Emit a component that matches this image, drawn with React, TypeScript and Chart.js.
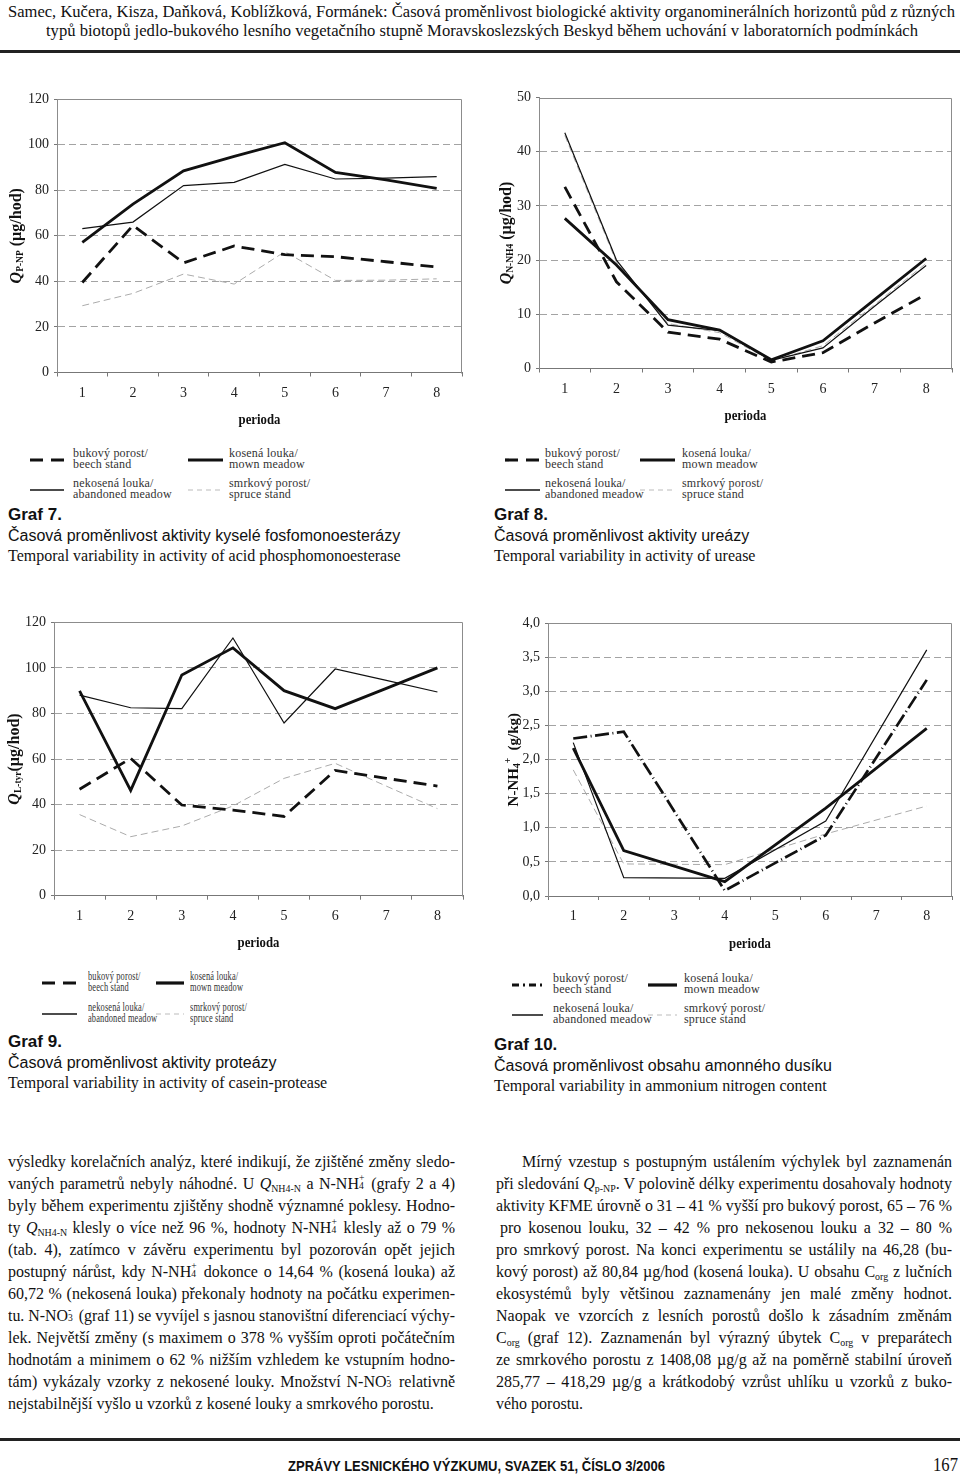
import React, { useEffect, useLayoutEffect, useRef } from 'react';
import { Chart, registerables } from 'chart.js';

Chart.register(...registerables);

// ---------- data ----------
const periods = ['1', '2', '3', '4', '5', '6', '7', '8'];

// Graf 7 – Q p-NP (µg/hod)
const g7Beech = [39.5, 64.5, 48.1, 55.5, 51.7, 50.8, 48.6, 46.3];
const g7Mown = [57.1, 73.9, 88.5, 94.8, 100.8, 87.8, 84.5, 80.8];
const g7Abandoned = [63.1, 66.0, 82.0, 83.4, 91.3, 84.9, 85.3, 85.9];
const g7Spruce = [29.3, 34.7, 43.2, 38.8, 53.0, 40.4, 40.5, 41.1];

// Graf 8 – Q N-NH4 (µg/hod)
const g8Beech = [33.5, 16.0, 6.7, 5.4, 1.2, 2.9, 8.4, 13.7];
const g8Mown = [27.7, 19.1, 9.0, 7.1, 1.6, 5.1, 12.7, 20.3];
const g8Abandoned = [43.5, 20.0, 8.0, 7.0, 1.5, 3.8, 11.5, 19.0];
const g8Spruce = [43.0, 19.6, 8.3, 6.6, 1.4, 4.2, 11.8, 19.4];

// Graf 9 – Q L-tyr (µg/hod)
const g9Beech = [46.7, 60.3, 39.8, 37.6, 34.8, 55.0, 51.5, 48.1];
const g9Mown = [89.9, 46.2, 96.9, 108.8, 90.0, 82.1, 91.0, 100.0];
const g9Abandoned = [88.0, 82.5, 82.1, 113.1, 75.8, 99.5, 94.5, 89.4];
const g9Spruce = [35.6, 25.9, 30.6, 39.4, 51.5, 58.1, 48.1, 38.2];

// Graf 10 – N-NH4+ (g/kg), measured in periods 1, 2, 4, 6, 8
const g10Beech = [2.31, 2.41, null, 0.08, null, 0.89, null, 3.17];
const g10Mown = [2.17, 0.665, null, 0.21, null, 1.29, null, 2.46];
const g10Abandoned = [2.25, 0.27, null, 0.26, null, 1.1, null, 3.61];
const g10Spruce = [1.85, 0.47, null, 0.46, null, 0.91, null, 1.32];

const seriesNames = {
  beech: 'bukový porost/beech stand',
  mown: 'kosená louka/mown meadow',
  abandoned: 'nekosená louka/abandoned meadow',
  spruce: 'smrkový porost/spruce stand',
};

// ---------- styles ----------
const SERIF = '"Liberation Serif", "Times New Roman", serif';
const SANS = '"Liberation Sans", Arial, sans-serif';

type StyleKey = 'beech' | 'beechDot' | 'mown' | 'abandoned' | 'spruce';
const STYLES: Record<StyleKey, { color: string; width: number; dash: number[] }> = {
  beech: { color: '#111', width: 2.8, dash: [13, 7] },
  beechDot: { color: '#111', width: 2.7, dash: [14, 3.5, 1, 3.5] },
  mown: { color: '#111', width: 2.8, dash: [] },
  abandoned: { color: '#111', width: 1.2, dash: [] },
  spruce: { color: '#ababab', width: 1, dash: [7, 4] },
};
const LEG: Record<StyleKey, { color: string; w: number; dash: string }> = {
  beech: { color: '#111', w: 3.2, dash: '13 8' },
  beechDot: { color: '#111', w: 3, dash: '7 4 2 4' },
  mown: { color: '#111', w: 3.2, dash: '' },
  abandoned: { color: '#111', w: 1.5, dash: '' },
  spruce: { color: '#bbb', w: 1, dash: '5 4' },
};

type Seg = { t: string; size: number; italic?: boolean; dy?: number };

const decoPlugin: any = {
  id: 'deco',
  beforeDatasetsDraw(chart: any) {
    const { ctx, chartArea: a } = chart;
    ctx.save();
    ctx.strokeStyle = '#8c8c8c';
    ctx.lineWidth = 1;
    ctx.setLineDash([]);
    const l = Math.round(a.left) + 0.5;
    const t = Math.round(a.top) + 0.5;
    const r = Math.round(a.right) - 0.5;
    const b = Math.round(a.bottom) + 0.5;
    ctx.beginPath();
    ctx.moveTo(l, t);
    ctx.lineTo(r, t);
    ctx.lineTo(r, b);
    ctx.stroke();
    ctx.restore();
  },
  afterDraw(chart: any, _args: any, opts: any) {
    const { ctx, chartArea: a } = chart;
    // x title
    ctx.save();
    ctx.fillStyle = '#111';
    ctx.font = `bold 15px ${SERIF}`;
    ctx.textAlign = 'center';
    ctx.textBaseline = 'middle';
    ctx.translate((a.left + a.right) / 2, a.bottom + opts.xOff);
    ctx.scale(0.85, 1);
    ctx.fillText(opts.xText, 0, 0);
    ctx.restore();
    // y title
    ctx.save();
    ctx.fillStyle = '#111';
    const segs: Seg[] = opts.ySegs;
    const fontOf = (s: Seg) => `${s.italic ? 'italic ' : ''}bold ${s.size}px ${SERIF}`;
    let total = 0;
    for (const s of segs) {
      ctx.font = fontOf(s);
      total += ctx.measureText(s.t).width;
    }
    ctx.translate(a.left - opts.yOff, (a.top + a.bottom) / 2);
    ctx.rotate(-Math.PI / 2);
    ctx.textAlign = 'left';
    ctx.textBaseline = 'alphabetic';
    let x = -total / 2;
    for (const s of segs) {
      ctx.font = fontOf(s);
      ctx.fillText(s.t, x, 5.5 + (s.dy || 0));
      x += ctx.measureText(s.t).width;
    }
    ctx.restore();
  },
};

type Ds = { label: string; data: (number | null)[]; style: StyleKey };

function LineChart(props: {
  left: number; top: number; width?: number; height?: number;
  area: { l: number; t: number; r: number; b: number };
  yMin: number; yMax: number; step: number; decimals?: number;
  ySegs: Seg[]; yOff: number; xOff: number; series: Ds[]; spanGaps?: boolean;
}) {
  const ref = useRef<HTMLCanvasElement>(null);
  const width = props.width || 480;
  const height = props.height || 360;
  useEffect(() => {
    const { area, yMin, yMax, step, decimals = 0 } = props;
    const chart = new Chart(ref.current as HTMLCanvasElement, {
      type: 'line',
      data: {
        labels: periods,
        datasets: props.series.map((s) => ({
          label: s.label,
          data: s.data,
          borderColor: STYLES[s.style].color,
          borderWidth: STYLES[s.style].width,
          borderDash: STYLES[s.style].dash,
          borderCapStyle: 'butt',
          borderJoinStyle: 'miter',
          pointRadius: 0,
          tension: 0,
          fill: false,
          spanGaps: !!props.spanGaps,
        })),
      } as any,
      options: {
        animation: false,
        responsive: false,
        maintainAspectRatio: false,
        devicePixelRatio: 1,
        events: [],
        layout: { padding: { top: area.t, right: width - area.r, left: 0, bottom: 0 } },
        plugins: {
          legend: { display: false },
          tooltip: { enabled: false },
          deco: { ySegs: props.ySegs, yOff: props.yOff, xOff: props.xOff, xText: 'perioda' },
        } as any,
        scales: {
          x: {
            type: 'category',
            offset: true,
            grid: { offset: true, drawOnChartArea: false, drawTicks: true, tickLength: 4, color: '#777', lineWidth: 1 },
            border: { color: '#777', width: 1 },
            ticks: { font: { family: SERIF, size: 14 }, color: '#222', padding: 8, maxRotation: 0, autoSkip: false },
            afterFit: (s: any) => { s.height = height - area.b; },
          },
          y: {
            min: yMin,
            max: yMax,
            grid: {
              color: (c: any) => (c.tick && (Math.abs(c.tick.value - yMin) < 1e-9 || Math.abs(c.tick.value - yMax) < 1e-9) ? 'rgba(0,0,0,0)' : '#a3a3a3'),
              tickColor: '#777',
              tickLength: 3,
              drawTicks: true,
              lineWidth: 1,
            },
            border: { color: '#8c8c8c', width: 1, dash: [7, 4] },
            ticks: {
              stepSize: step,
              font: { family: SERIF, size: 14 },
              color: '#222',
              padding: 5,
              callback: (v: any) => (decimals ? Number(v).toFixed(decimals).replace('.', ',') : String(v)),
            },
            afterFit: (s: any) => { s.width = area.l; },
          },
        } as any,
      },
      plugins: [decoPlugin],
    } as any);
    return () => chart.destroy();
  }, []);
  return (
    <canvas
      ref={ref}
      width={width}
      height={height}
      style={{ position: 'absolute', left: props.left, top: props.top, width, height }}
    />
  );
}

// ---------- text helpers ----------
function FitLine(p: {
  x: number; y: number; w: number; size: number; mode?: 'justify' | 'fit' | 'shrink' | 'none';
  align?: 'left' | 'center'; family?: string; weight?: any; color?: string; children: any;
}) {
  const ref = useRef<HTMLSpanElement>(null);
  const h = Math.round(p.size * 1.3);
  useLayoutEffect(() => {
    const el = ref.current;
    if (!el) return;
    const run = () => {
      el.style.wordSpacing = '0px';
      el.style.transform = 'none';
      const nat = el.getBoundingClientRect().width;
      const mode = p.mode || 'none';
      if (!nat) return;
      if (mode === 'justify') {
        const n = ((el.textContent || '').match(/ /g) || []).length;
        if (nat < p.w && n > 0) el.style.wordSpacing = (p.w - nat) / n + 'px';
        else if (nat > p.w) el.style.transform = `scaleX(${p.w / nat})`;
      } else if (mode === 'fit') {
        el.style.transform = `scaleX(${p.w / nat})`;
      } else if (mode === 'shrink' && nat > p.w) {
        el.style.transform = `scaleX(${p.w / nat})`;
      }
    };
    run();
    const f: any = (document as any).fonts;
    if (f && f.ready) f.ready.then(run);
  });
  const align = p.align || 'left';
  return (
    <div
      style={{
        position: 'absolute', left: p.x, top: p.y - h / 2, width: p.w, height: h, lineHeight: h + 'px',
        whiteSpace: 'pre', textAlign: align, fontFamily: p.family || SERIF, fontSize: p.size,
        fontWeight: p.weight || 'normal', color: p.color || '#111',
      }}
    >
      <span ref={ref} style={{ display: 'inline-block', transformOrigin: align === 'center' ? 'center center' : 'left center' }}>
        {p.children}
      </span>
    </div>
  );
}

const Sub = ({ children }: any) => (
  <span style={{ fontSize: '0.62em', position: 'relative', top: '0.32em', lineHeight: 0 }}>{children}</span>
);
const SubSup = ({ sub, sup }: { sub: string; sup: string }) => (
  <span style={{ position: 'relative', display: 'inline-block', width: '0.42em', height: '0.7em' }}>
    <span style={{ position: 'absolute', left: 0, top: '0.38em', fontSize: '0.6em', lineHeight: 1 }}>{sub}</span>
    <span style={{ position: 'absolute', left: 0, top: '-0.42em', fontSize: '0.6em', lineHeight: 1 }}>{sup}</span>
  </span>
);

function Sample({ x1, x2, y, style }: { x1: number; x2: number; y: number; style: StyleKey }) {
  const s = LEG[style];
  return (
    <svg style={{ position: 'absolute', left: x1, top: y - 4, overflow: 'visible' }} width={x2 - x1} height={8}>
      <line x1={0} y1={4} x2={x2 - x1} y2={4} stroke={s.color} strokeWidth={s.w} strokeDasharray={s.dash || undefined} />
    </svg>
  );
}

function LegText({ x, y, l1, l2, sx = 1 }: { x: number; y: number; l1: string; l2: string; sx?: number }) {
  return (
    <div
      style={{
        position: 'absolute', left: x, top: y - 11, lineHeight: '11px', fontSize: 12, fontFamily: SERIF,
        color: '#333', whiteSpace: 'pre', letterSpacing: '0.2px', transform: `scaleX(${sx})`, transformOrigin: 'left center',
      }}
    >
      {l1}
      <br />
      {l2}
    </div>
  );
}

function Legend(p: { rows: [number, number]; c1: [number, number, number]; c2: [number, number, number]; beech: StyleKey; sx?: number }) {
  const [r1, r2] = p.rows;
  const sx = p.sx || 1;
  return (
    <>
      <Sample x1={p.c1[0]} x2={p.c1[1]} y={r1 + 1} style={p.beech} />
      <LegText x={p.c1[2]} y={r1} l1="bukový porost/" l2="beech stand" sx={sx} />
      <Sample x1={p.c2[0]} x2={p.c2[1]} y={r1 + 1} style="mown" />
      <LegText x={p.c2[2]} y={r1} l1="kosená louka/" l2="mown meadow" sx={sx} />
      <Sample x1={p.c1[0]} x2={p.c1[1]} y={r2 + 1} style="abandoned" />
      <LegText x={p.c1[2]} y={r2} l1="nekosená louka/" l2="abandoned meadow" sx={sx} />
      <Sample x1={p.c2[0]} x2={p.c2[1]} y={r2 + 1} style="spruce" />
      <LegText x={p.c2[2]} y={r2} l1="smrkový porost/" l2="spruce stand" sx={sx} />
    </>
  );
}

function Caption({ x, y, num, cz, en }: { x: number; y: number; num: string; cz: string; en: string }) {
  return (
    <>
      <FitLine x={x} y={y} w={300} size={17} family={SANS} weight="bold">{num}</FitLine>
      <FitLine x={x} y={y + 20} w={460} size={16} family={SANS} mode="shrink">{cz}</FitLine>
      <FitLine x={x} y={y + 40} w={460} size={16} family={SERIF} mode="shrink">{en}</FitLine>
    </>
  );
}

const qSegs = (sub: string): Seg[] => [
  { t: 'Q', size: 16, italic: true },
  { t: sub, size: 9.5, dy: 2.5 },
  { t: ' (µg/hod)', size: 16 },
];

const mk = (b: any, m: any, a: any, s: any, beechStyle: StyleKey = 'beech'): Ds[] => [
  { label: seriesNames.beech, data: b, style: beechStyle },
  { label: seriesNames.mown, data: m, style: 'mown' },
  { label: seriesNames.abandoned, data: a, style: 'abandoned' },
  { label: seriesNames.spruce, data: s, style: 'spruce' },
];

const LX = 8;
const LW = 447;
const RX = 496;
const RW = 456;
const BY = 1161;
const LH = 22;

export default function App() {
  return (
    <div
      style={{
        position: 'absolute', left: 0, top: 0, width: 960, height: 1476, background: '#fff',
        overflow: 'hidden', color: '#111', fontFamily: SERIF,
      }}
    >
      {/* header */}
      <FitLine x={8} y={12} w={947} size={17} mode="fit">
        Samec, Kučera, Kisza, Daňková, Koblížková, Formánek: Časová proměnlivost biologické aktivity organominerálních horizontů půd z různých
      </FitLine>
      <FitLine x={46} y={31} w={872} size={17} mode="fit">
        typů biotopů jedlo-bukového lesního vegetačního stupně Moravskoslezských Beskyd během uchování v laboratorních podmínkách
      </FitLine>
      <div style={{ position: 'absolute', left: 0, top: 50, width: 960, height: 3, background: '#222' }} />

      {/* charts */}
      <LineChart
        left={0} top={80} area={{ l: 57, t: 19, r: 462, b: 292.5 }}
        yMin={0} yMax={120} step={20} ySegs={qSegs('P-NP')} yOff={42} xOff={48}
        series={mk(g7Beech, g7Mown, g7Abandoned, g7Spruce)}
      />
      <LineChart
        left={480} top={80} area={{ l: 59, t: 17.5, r: 472, b: 288.5 }}
        yMin={0} yMax={50} step={10} ySegs={qSegs('N-NH4')} yOff={34} xOff={48}
        series={mk(g8Beech, g8Mown, g8Abandoned, g8Spruce)}
      />
      <LineChart
        left={0} top={600} area={{ l: 54, t: 22.3, r: 463, b: 295.7 }}
        yMin={0} yMax={120} step={20}
        ySegs={[{ t: 'Q', size: 16, italic: true }, { t: 'L-tyr', size: 9.5, dy: 2.5 }, { t: '(µg/hod)', size: 16 }]}
        yOff={41} xOff={47}
        series={mk(g9Beech, g9Mown, g9Abandoned, g9Spruce)}
      />
      <LineChart
        left={480} top={600} area={{ l: 68, t: 23.3, r: 472, b: 296 }}
        yMin={0} yMax={4} step={0.5} decimals={1}
        ySegs={[{ t: 'N-NH', size: 15 }, { t: '4', size: 9.5, dy: 2.5 }, { t: '+', size: 9.5, dy: -7 }, { t: '  (g/kg)', size: 15 }]}
        yOff={36} xOff={48} spanGaps
        series={mk(g10Beech, g10Mown, g10Abandoned, g10Spruce, 'beechDot')}
      />

      {/* legends */}
      <Legend rows={[459, 489]} c1={[30, 64, 73]} c2={[188, 223, 229]} beech="beech" />
      <Legend rows={[459, 489]} c1={[505, 540, 545]} c2={[640, 675, 682]} beech="beech" />
      <Legend rows={[982, 1013]} c1={[42, 77, 88]} c2={[156, 184, 190]} beech="beech" sx={0.7} />
      <Legend rows={[984, 1014]} c1={[512, 543, 553]} c2={[648, 677, 684]} beech="beechDot" />

      {/* captions */}
      <Caption x={8} y={515} num="Graf 7." cz="Časová proměnlivost aktivity kyselé fosfomonoesterázy" en="Temporal variability in activity of acid phosphomonoesterase" />
      <Caption x={494} y={515} num="Graf 8." cz="Časová proměnlivost aktivity ureázy" en="Temporal variability in activity of urease" />
      <Caption x={8} y={1042} num="Graf 9." cz="Časová proměnlivost aktivity proteázy" en="Temporal variability in activity of casein-protease" />
      <Caption x={494} y={1045} num="Graf 10." cz="Časová proměnlivost obsahu amonného dusíku" en="Temporal variability in ammonium nitrogen content" />

      {/* body text – left column */}
      <FitLine x={LX} y={BY} w={LW} size={16} mode="justify">výsledky korelačních analýz, které indikují, že zjištěné změny sledo-</FitLine>
      <FitLine x={LX} y={BY + LH} w={LW} size={16} mode="justify">
        <>vaných parametrů nebyly náhodné. U <i>Q</i><Sub>NH4-N</Sub> a N-NH<SubSup sub="4" sup="+" /> (grafy 2 a 4)</>
      </FitLine>
      <FitLine x={LX} y={BY + LH * 2} w={LW} size={16} mode="justify">byly během experimentu zjištěny shodně významné poklesy. Hodno-</FitLine>
      <FitLine x={LX} y={BY + LH * 3} w={LW} size={16} mode="justify">
        <>ty <i>Q</i><Sub>NH4-N</Sub> klesly o více než 96 %, hodnoty N-NH<SubSup sub="4" sup="+" /> klesly až o 79 %</>
      </FitLine>
      <FitLine x={LX} y={BY + LH * 4} w={LW} size={16} mode="justify">(tab. 4), zatímco v závěru experimentu byl pozorován opět jejich</FitLine>
      <FitLine x={LX} y={BY + LH * 5} w={LW} size={16} mode="justify">
        <>postupný nárůst, kdy N-NH<SubSup sub="4" sup="+" /> dokonce o 14,64 % (kosená louka) až</>
      </FitLine>
      <FitLine x={LX} y={BY + LH * 6} w={LW} size={16} mode="justify">60,72 % (nekosená louka) překonaly hodnoty na počátku experimen-</FitLine>
      <FitLine x={LX} y={BY + LH * 7} w={LW} size={16} mode="justify">
        <>tu. N-NO<SubSup sub="3" sup="-" /> (graf 11) se vyvíjel s jasnou stanovištní diferenciací výchy-</>
      </FitLine>
      <FitLine x={LX} y={BY + LH * 8} w={LW} size={16} mode="justify">lek. Největší změny (s maximem o 378 % vyšším oproti počátečním</FitLine>
      <FitLine x={LX} y={BY + LH * 9} w={LW} size={16} mode="justify">hodnotám a minimem o 62 % nižším vzhledem ke vstupním hodno-</FitLine>
      <FitLine x={LX} y={BY + LH * 10} w={LW} size={16} mode="justify">
        <>tám) vykázaly vzorky z nekosené louky. Množství N-NO<SubSup sub="3" sup="-" /> relativně</>
      </FitLine>
      <FitLine x={LX} y={BY + LH * 11} w={LW} size={16} mode="shrink">nejstabilnější vyšlo u vzorků z kosené louky a smrkového porostu.</FitLine>

      {/* body text – right column */}
      <FitLine x={522} y={BY} w={RW - 26} size={16} mode="justify">Mírný vzestup s postupným ustálením výchylek byl zaznamenán</FitLine>
      <FitLine x={RX} y={BY + LH} w={RW} size={16} mode="justify">
        <>při sledování <i>Q</i><Sub>p-NP</Sub>. V polovině délky experimentu dosahovaly hodnoty</>
      </FitLine>
      <FitLine x={RX} y={BY + LH * 2} w={RW} size={16} mode="justify">aktivity KFME úrovně o 31 – 41 % vyšší pro bukový porost, 65 – 76 %</FitLine>
      <FitLine x={RX + 4} y={BY + LH * 3} w={RW - 4} size={16} mode="justify">pro kosenou louku, 32 – 42 % pro nekosenou louku a 32 – 80 %</FitLine>
      <FitLine x={RX} y={BY + LH * 4} w={RW} size={16} mode="justify">pro smrkový porost. Na konci experimentu se ustálily na 46,28 (bu-</FitLine>
      <FitLine x={RX} y={BY + LH * 5} w={RW} size={16} mode="justify">
        <>kový porost) až 80,84 µg/hod (kosená louka). U obsahu C<Sub>org</Sub> z lučních</>
      </FitLine>
      <FitLine x={RX} y={BY + LH * 6} w={RW} size={16} mode="justify">ekosystémů byly většinou zaznamenány jen malé změny hodnot.</FitLine>
      <FitLine x={RX} y={BY + LH * 7} w={RW} size={16} mode="justify">Naopak ve vzorcích z lesních porostů došlo k zásadním změnám</FitLine>
      <FitLine x={RX} y={BY + LH * 8} w={RW} size={16} mode="justify">
        <>C<Sub>org</Sub> (graf 12). Zaznamenán byl výrazný úbytek C<Sub>org</Sub> v preparátech</>
      </FitLine>
      <FitLine x={RX} y={BY + LH * 9} w={RW} size={16} mode="justify">ze smrkového porostu z 1408,08 µg/g až na poměrně stabilní úroveň</FitLine>
      <FitLine x={RX} y={BY + LH * 10} w={RW} size={16} mode="justify">285,77 – 418,29 µg/g a krátkodobý vzrůst uhlíku u vzorků z buko-</FitLine>
      <FitLine x={RX} y={BY + LH * 11} w={RW} size={16} mode="none">vého porostu.</FitLine>

      {/* footer */}
      <div style={{ position: 'absolute', left: 0, top: 1438, width: 960, height: 3, background: '#222' }} />
      <FitLine x={288} y={1466} w={377} size={15} family={SANS} weight="bold" mode="fit">
        ZPRÁVY LESNICKÉHO VÝZKUMU, SVAZEK 51, ČÍSLO 3/2006
      </FitLine>
      <FitLine x={933} y={1464} w={25} size={19} mode="fit">167</FitLine>
    </div>
  );
}
